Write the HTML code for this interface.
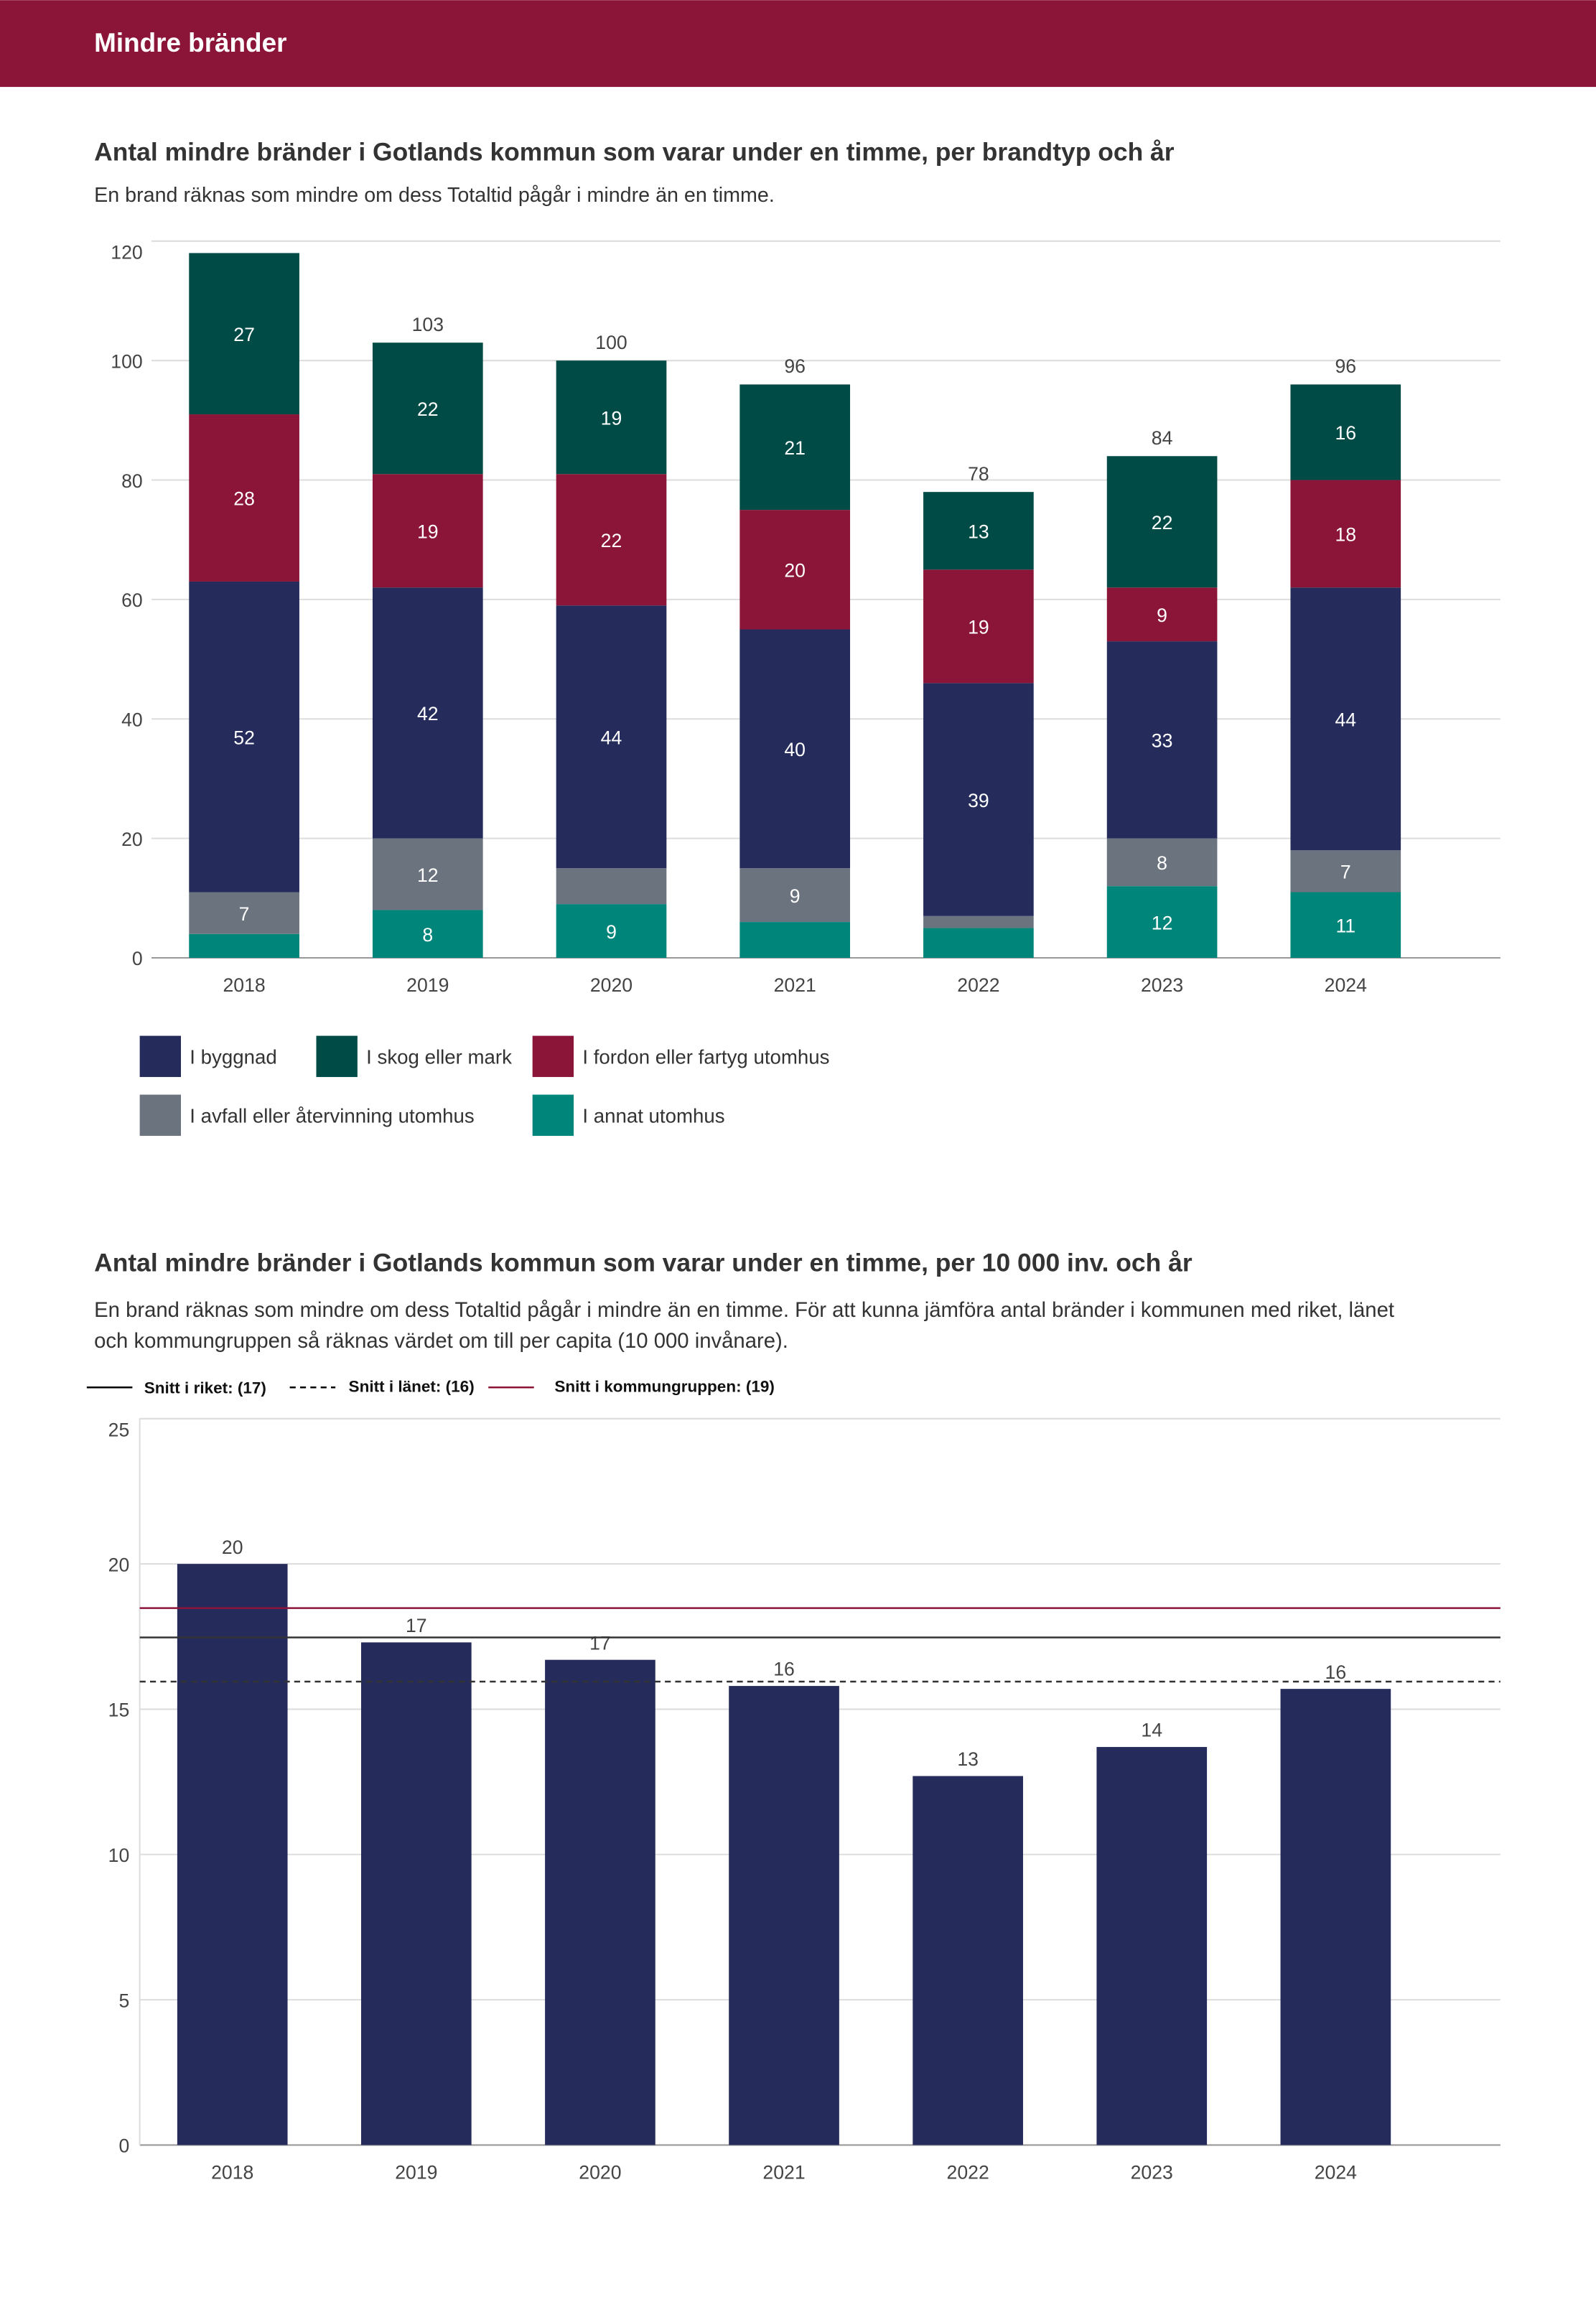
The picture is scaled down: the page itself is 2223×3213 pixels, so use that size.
<!DOCTYPE html>
<html><head><meta charset="utf-8"><style>
html,body{margin:0;padding:0;background:#fff}
svg{display:block;font-family:"Liberation Sans",sans-serif}
</style></head><body>
<svg id="svg" width="2223" height="3213" viewBox="0 0 1085 1568" xmlns="http://www.w3.org/2000/svg">
<rect x="0" y="0" width="1085" height="59" fill="#8b1538"/>
<text x="64" y="35" fill="#fff" font-size="18" font-weight="bold">Mindre bränder</text>
<text x="64" y="109" fill="#333" font-size="17.3" font-weight="bold">Antal mindre bränder i Gotlands kommun som varar under en timme, per brandtyp och år</text>
<text x="64" y="137" fill="#333" font-size="14">En brand räknas som mindre om dess Totaltid pågår i mindre än en timme.</text>
<g id="c1"></g>
<text x="64" y="864" fill="#333" font-size="17.3" font-weight="bold">Antal mindre bränder i Gotlands kommun som varar under en timme, per 10 000 inv. och år</text>
<text x="64" y="895" fill="#333" font-size="14.3">En brand räknas som mindre om dess Totaltid pågår i mindre än en timme. För att kunna jämföra antal bränder i kommunen med riket, länet</text>
<text x="64" y="916" fill="#333" font-size="14.3">och kommungruppen så räknas värdet om till per capita (10 000 invånare).</text>
<g>
<line x1="59" y1="943" x2="90" y2="943" stroke="#000" stroke-width="1.2"/>
<text x="98" y="947" font-size="11" font-weight="bold" fill="#111">Snitt i riket: (17)</text>
<line x1="197" y1="943" x2="228" y2="943" stroke="#000" stroke-width="1.2" stroke-dasharray="4,3"/>
<text x="237" y="946" font-size="11" font-weight="bold" fill="#111">Snitt i länet: (16)</text>
<line x1="332" y1="943" x2="363" y2="943" stroke="#8b1538" stroke-width="1.2"/>
<text x="377" y="946" font-size="11" font-weight="bold" fill="#111">Snitt i kommungruppen: (19)</text>
</g>
<g id="c2"></g>
</svg>
<script>
const years = ["2018","2019","2020","2021","2022","2023","2024"];
const annat = [4,8,9,6,5,12,11];
const avfall = [7,12,6,9,2,8,7];
const byggnad = [52,42,44,40,39,33,44];
const fordon = [28,19,22,20,19,9,18];
const skog = [27,22,19,21,13,22,16];
const yTicks1 = [0,20,40,60,80,100,120];
const perCapita = [20.0,17.3,16.7,15.8,12.7,13.7,15.7];
const perCapitaLabels = ["20","17","17","16","13","14","16"];
const yTicks2 = [0,5,10,15,20,25];
const snittRiket = 17.47, snittLanet = 15.95, snittKommungrupp = 18.48;

const NS="http://www.w3.org/2000/svg";
function mk(p,tag,a,txt){const e=document.createElementNS(NS,tag);for(const k in a)e.setAttribute(k,a[k]);if(txt!==undefined)e.textContent=txt;p.appendChild(e);return e;}

// Chart 1
const c1=document.getElementById('c1');
const y1=v=>651-v*4.06;
const x1=i=>166+i*124.8;
yTicks1.forEach(t=>{
  const l=mk(c1,'line',{x1:103,x2:1020,y1:y1(t),y2:y1(t),stroke:t===0?'#999':'#ddd','stroke-width':1});
  
  
  const tx=mk(c1,'text',{x:97,y:y1(t)+(t===120?12:5),'text-anchor':'end','font-size':13,fill:'#444'},t);
  
  
});
const series=[["annat",annat,"#00857a"],["avfall",avfall,"#6b737e"],["byggnad",byggnad,"#252c5c"],["fordon",fordon,"#8b1538"],["skog",skog,"#004b45"]];
years.forEach((yr,i)=>{
  let base=0;
  series.forEach(([nm,arr,col])=>{
    const v=arr[i];
    const r=mk(c1,'rect',{x:x1(i)-37.5,width:75,y:y1(base+v),height:y1(base)-y1(base+v),fill:col});
    
    
    if(v>=7){
      const t=mk(c1,'text',{x:x1(i),y:(y1(base)+y1(base+v))/2+5,'text-anchor':'middle','font-size':13,fill:'#fff'},v);
      
      
    }
    base+=v;
  });
  if(base<=115){
    const t=mk(c1,'text',{x:x1(i),y:y1(base)-8,'text-anchor':'middle','font-size':13,fill:'#444'},base);
    
    
  }
  const xl=mk(c1,'text',{x:x1(i),y:674,'text-anchor':'middle','font-size':13,fill:'#444'},yr);
  
  
});
const leg=[["I byggnad","#252c5c",95,704],["I skog eller mark","#004b45",215,704],["I fordon eller fartyg utomhus","#8b1538",362,704],["I avfall eller återvinning utomhus","#6b737e",95,744],["I annat utomhus","#00857a",362,744]];
leg.forEach(([lab,col,x,y])=>{
  const r=mk(c1,'rect',{x:x,y:y,width:28,height:28,fill:col});
  
  
  const t=mk(c1,'text',{x:x+34,y:y+19,'font-size':13.5,fill:'#333'},lab);
  
  
});

// Chart 2
const c2=document.getElementById('c2');
const y2=v=>1458-v*19.75;
const x2=i=>158+i*125;
yTicks2.forEach(t=>{
  const l=mk(c2,'line',{x1:95,x2:1020,y1:y2(t),y2:y2(t),stroke:t===0?'#999':'#ddd','stroke-width':1});
  
  
  const tx=mk(c2,'text',{x:88,y:y2(t)+(t===25?12:5),'text-anchor':'end','font-size':13,fill:'#444'},t);
  
  
});
const ax=mk(c2,'line',{x1:95,x2:95,y1:964,y2:1458,stroke:'#ddd'});


years.forEach((yr,i)=>{
  const r=mk(c2,'rect',{x:x2(i)-37.5,width:75,y:y2(perCapita[i]),height:1458-y2(perCapita[i]),fill:'#252c5c'});
  
  
  const t=mk(c2,'text',{x:x2(i),y:y2(perCapita[i])-7,'text-anchor':'middle','font-size':13,fill:'#444'},perCapitaLabels[i]);
  
  
  const xl=mk(c2,'text',{x:x2(i),y:1481,'text-anchor':'middle','font-size':13,fill:'#444'},yr);
  
  
});
const l1=mk(c2,'line',{x1:95,x2:1020,y1:y2(snittKommungrupp),y2:y2(snittKommungrupp),stroke:'#8b1538','stroke-width':1.2});


const l2=mk(c2,'line',{x1:95,x2:1020,y1:y2(snittRiket),y2:y2(snittRiket),stroke:'#333','stroke-width':1.2});


const l3=mk(c2,'line',{x1:95,x2:1020,y1:y2(snittLanet),y2:y2(snittLanet),stroke:'#333','stroke-width':1.2,'stroke-dasharray':'4,3'});


</script>
</body></html>
